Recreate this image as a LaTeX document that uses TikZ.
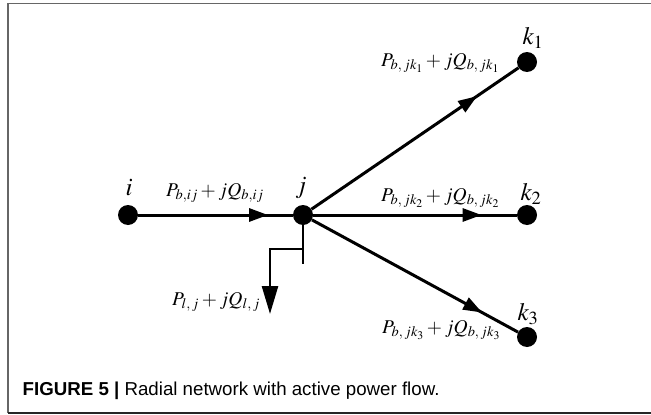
\documentclass[tikz,border=0pt]{standalone}
\usepackage{mathptmx}
\usepackage[no-math]{fontspec}
\newfontfamily\capfont{Liberation Sans}
\usetikzlibrary{arrows.meta,decorations.markings}
\tikzset{
  bus/.style={circle,fill=black,inner sep=0pt,minimum size=20pt},
  buslabel/.style={inner sep=0pt,font=\fontsize{25}{27}\selectfont},
  flowlabel/.style={inner sep=0pt,anchor=base west,font=\fontsize{19.5}{21}\selectfont},
  branch/.style={line width=3pt},
  midarrow/.style={postaction={decorate},decoration={markings,
      mark=at position #1 with {\arrow{Triangle[length=19pt,width=13pt]}}}},
  loadline/.style={line width=2.6pt},
  frameline/.style={line width=1.2pt}
}
\begin{document}
\begin{tikzpicture}[x=1pt,y=-1pt]
\useasboundingbox (0,0) rectangle (651,415);
% frame
\draw[frameline,color=black!60] (651,3.5) -- (8,3.5) -- (8,413);
\draw[frameline,color=black!85] (8,413) -- (651,413);
% buses
\node[bus] (i) at (128,215) {};
\node[bus] (j) at (303,215) {};
\node[bus] (k1) at (527,62) {};
\node[bus] (k2) at (527,215) {};
\node[bus] (k3) at (527,337) {};
% bus labels
\node[buslabel] (li) at (129,188) {$i$};
\node[buslabel] (lj) at (301,188) {$j$};
\node[buslabel] (lk1) at (533,38) {$k_1$};
\node[buslabel] (lk2) at (531,194) {$k_2$};
\node[buslabel] (lk3) at (528,314) {$k_3$};
% branches
\draw[branch,midarrow=0.84] (i) -- (j);
\draw[branch,midarrow=0.8] (j) -- (k1);
\draw[branch,midarrow=0.827] (j) -- (k2);
\draw[branch,midarrow=0.826] (j) -- (k3);
% load
\coordinate (lb) at (303,264);
\coordinate (lc) at (303,249);
\coordinate (ld) at (270,249);
\coordinate (le) at (270,314);
\draw[loadline] (j) -- (lb);
\draw[loadline,-{Triangle[length=28pt,width=16pt]}] (lc) -- (ld) -- (le);
% flow labels
\node[flowlabel] (fij) at (166,196) {$P_{b,ij}+jQ_{b,ij}$};
\node[flowlabel] (fk1) at (381,66) {$P_{b,\,jk_1}+jQ_{b,\,jk_1}$};
\node[flowlabel] (fk2) at (381,201) {$P_{b,\,jk_2}+jQ_{b,\,jk_2}$};
\node[flowlabel] (fk3) at (382,333) {$P_{b,\,jk_3}+jQ_{b,\,jk_3}$};
\node[flowlabel] (fl) at (172,305) {$P_{l,\,j}+jQ_{l,\,j}$};
% caption
\node[inner sep=0pt,anchor=base west,font=\capfont\fontsize{18.7}{21}\selectfont] (cap) at (22.5,395)
  {\textbf{FIGURE 5 |} Radial network with active power flow.};
\end{tikzpicture}
\end{document}
